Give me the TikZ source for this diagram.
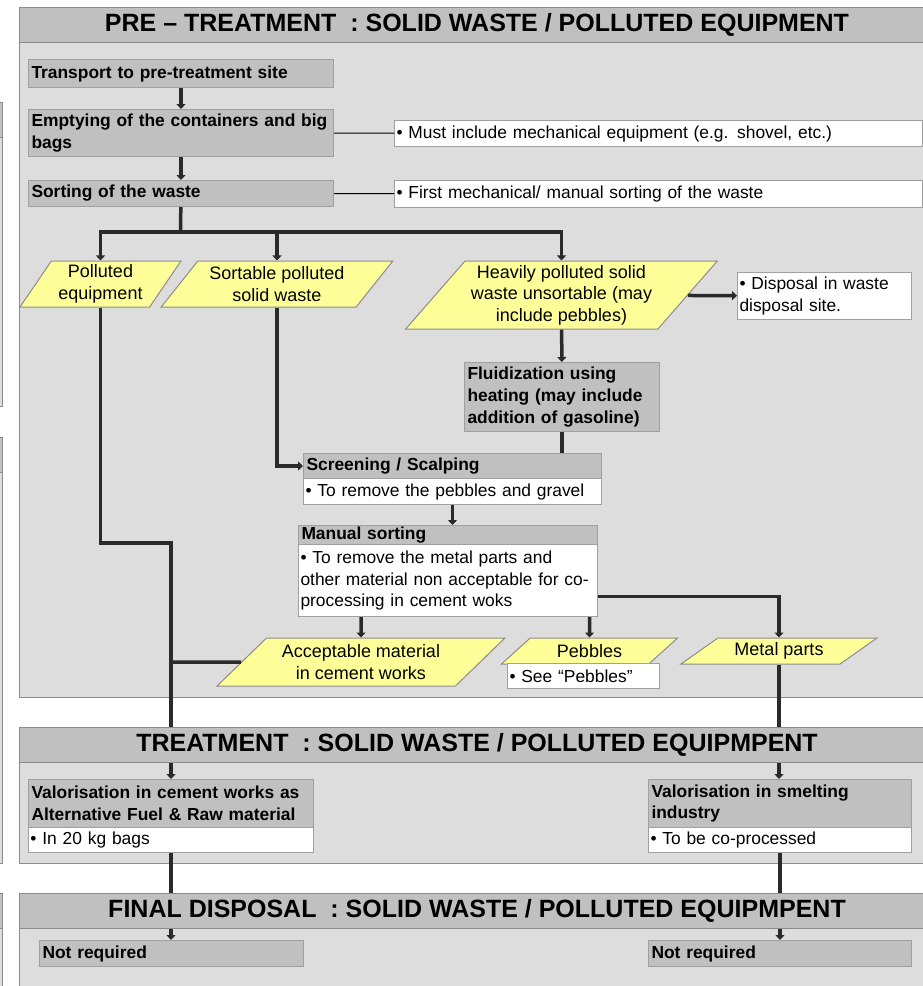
\documentclass[tikz,border=0pt]{standalone}
\usepackage{fontspec}
\setmainfont{Liberation Sans}
\usetikzlibrary{positioning,arrows.meta,shapes.geometric}
\definecolor{panelgrey}{HTML}{DDDDDD}
\definecolor{headgrey}{HTML}{C0C0C0}
\definecolor{edgegrey}{HTML}{8C8C8C}
\definecolor{boxedge}{HTML}{A0A0A0}
\definecolor{wasteyellow}{HTML}{FFFF99}
\definecolor{flowcol}{HTML}{2A2A2A}
\newcommand{\boxfont}{\fontsize{17.4}{21.7}\selectfont}
\tikzset{
    x=1pt,
    y=-1pt,
    panel/.style = {
        draw=edgegrey,
        fill=panelgrey,
        line width=1pt
    },
    header/.style = {
        draw=edgegrey,
        fill=headgrey,
        line width=1pt,
        minimum width=916pt,
        minimum height=35pt,
        inner sep=0pt,
        font=\bfseries\fontsize{25}{29}\selectfont
    },
    stepbox/.style = {
        draw=boxedge,
        fill=headgrey,
        line width=1pt,
        anchor=north west,
        align=left,
        inner xsep=3pt,
        inner ysep=0pt,
        font=\bfseries\boxfont
    },
    notebox/.style = {
        stepbox,
        fill=white,
        inner xsep=2pt,
        font=\boxfont
    },
    waste/.style = {
        draw=edgegrey,
        fill=wasteyellow,
        line width=1pt,
        shape=trapezium,
        trapezium stretches=true,
        align=center,
        inner sep=0pt,
        font=\fontsize{18}{21.5}\selectfont
    },
    flow/.style = {
        draw,
        color=flowcol,
        line width=3.5pt
    },
    link/.style = {
        draw,
        color=black,
        line width=1pt
    },
    >={Triangle[length=5pt,width=9pt]},
}

\begin{document}
\begin{tikzpicture}
            \useasboundingbox (0,0) rectangle (923,986);
            \clip (0,0) rectangle (923,986);

            \path[panel] (-60,102) rectangle (2,406);
            \path[panel, fill=headgrey] (-60,102) rectangle (2,137);
            \path[panel] (-60,437) rectangle (2,863);
            \path[panel, fill=headgrey] (-60,437) rectangle (2,472);
            \path[panel] (-60,893) rectangle (2,1000);
            \path[panel, fill=headgrey] (-60,893) rectangle (2,928);

            \path[panel] (19,7) rectangle (935,697);
            \path[panel] (19,727) rectangle (935,863);
            \path[panel] (19,893) rectangle (935,1000);

            \node[stepbox, text width=299pt, minimum height=28pt] (trans) at (28,59) {Transport to pre-treatment site};
            \node[stepbox, text width=299pt, minimum height=47pt] (empt) at (28,109) {Emptying of the containers and big\\bags};
            \node[stepbox, text width=299pt, minimum height=26pt] (sort) at (28,180) {Sorting of the waste};
            \node[notebox, text width=524pt, minimum height=26pt] (mech) at (394,120) {\textbullet\ Must include mechanical equipment (e.g. shovel, etc.)};
            \node[notebox, text width=524pt, minimum height=27pt] (first) at (394,180) {\textbullet\ First mechanical/ manual sorting of the waste};

            \node[waste, trapezium left angle=55, trapezium right angle=125, minimum width=161pt, minimum height=46pt] (pol) at (100.5,284) {Polluted\\equipment};
            \node[waste, trapezium left angle=48, trapezium right angle=132, minimum width=232pt, minimum height=46pt] (sws) at (277,284) {Sortable polluted\\solid waste};
            \node[waste, trapezium left angle=47, trapezium right angle=133, minimum width=313pt, minimum height=68pt] (heavy) at (561.5,295) {Heavily polluted solid\\waste unsortable (may\\include pebbles)};
            \node[notebox, text width=170pt, minimum height=47pt] (disp) at (737,272) {\textbullet\ Disposal in waste\\disposal site.};
            \node[stepbox, text width=189pt, minimum height=69pt] (fluid) at (464,362) {Fluidization using\\heating (may include\\addition of gasoline)};

            \node[stepbox, text width=292pt, minimum height=25pt] (scr) at (303,453) {Screening / Scalping};
            \node[notebox, text width=294pt, minimum height=26pt] (scrb) at (303,478) {\textbullet\ To remove the pebbles and gravel};
            \node[stepbox, text width=293pt, minimum height=19pt] (man) at (298,525) {Manual sorting};
            \node[notebox, text width=295pt, minimum height=72pt] (manb) at (298,544) {\textbullet\ To remove the metal parts and\\other material non acceptable for co-\\processing in cement woks};

            \node[waste, trapezium left angle=40, trapezium right angle=140, minimum width=288pt, minimum height=48pt] (acc) at (361,662) {Acceptable material\\in cement works};
            \node[waste, trapezium left angle=40, trapezium right angle=140, minimum width=177pt, minimum height=26pt] (peb) at (589.5,651) {Pebbles};
            \node[notebox, text width=148pt, minimum height=25pt] (pebn) at (507,663) {\textbullet\ See “Pebbles”};
            \node[waste, trapezium left angle=32, trapezium right angle=148, minimum width=196pt, minimum height=26pt] (met) at (779,651) {Metal parts};

            \node[stepbox, text width=279pt, minimum height=48pt] (cem) at (28,779) {Valorisation in cement works as\\Alternative Fuel \& Raw material};
            \node[notebox, text width=281pt, minimum height=25pt] (cemb) at (28,827) {\textbullet\ In 20 kg bags};
            \node[stepbox, text width=257pt, minimum height=48pt] (smel) at (648,779) {Valorisation in smelting\\industry};
            \node[notebox, text width=259pt, minimum height=25pt] (smelb) at (648,827) {\textbullet\ To be co-processed};

            \node[stepbox, text width=258pt, minimum height=26pt] (nr1) at (39,940) {Not required};
            \node[stepbox, text width=257pt, minimum height=26pt] (nr2) at (648,940) {Not required};

            \coordinate (bus) at (180.5,232);
            \coordinate (trunk) at (100.5,543);

            \path[link] (empt) -- (mech);
            \path[link] (sort) -- (first);
            \path[flow, ->] (trans) -- (empt);
            \path[flow, ->] (empt) -- (sort);
            \path[flow] (sort) -- (bus);
            \path[flow, ->] (bus) -| (pol);
            \path[flow, ->] (bus) -| (sws);
            \path[flow, ->] (bus) -| (heavy);
            \path[flow, ->] (heavy) -- (disp);
            \path[flow, ->] (heavy) -- (fluid);
            \path[flow] (fluid) -- (fluid |- scr.north);
            \path[flow, ->] (sws) |- (scr);
            \path[flow, ->] (scrb.south) -- (scrb.south |- man.north);
            \path[flow, ->] (acc.north |- manb.south) -- (acc);
            \path[flow, ->] (peb.north |- manb.south) -- (peb);
            \path[flow, ->] (manb.354) -| (met);
            \path[flow, ->] (met) -- (met |- smel.north);
            \path[flow, ->] (pol) -- (trunk) -| (cem);
            \path[flow] (acc) -- (acc -| cem);
            \path[flow, ->] (cemb) -- (cemb |- nr1.north);
            \path[flow, ->] (smelb) -- (nr2);

            \node[header] (prehd) at (477,24.5) {PRE – TREATMENT\ \ : SOLID WASTE / POLLUTED EQUIPMENT};
            \node[header] (trthd) at (477,744.5) {TREATMENT\ \ : SOLID WASTE / POLLUTED EQUIPMPENT};
            \node[header] (finhd) at (477,910.5) {FINAL DISPOSAL\ \ : SOLID WASTE / POLLUTED EQUIPMPENT};
        \end{tikzpicture}
\end{document}
